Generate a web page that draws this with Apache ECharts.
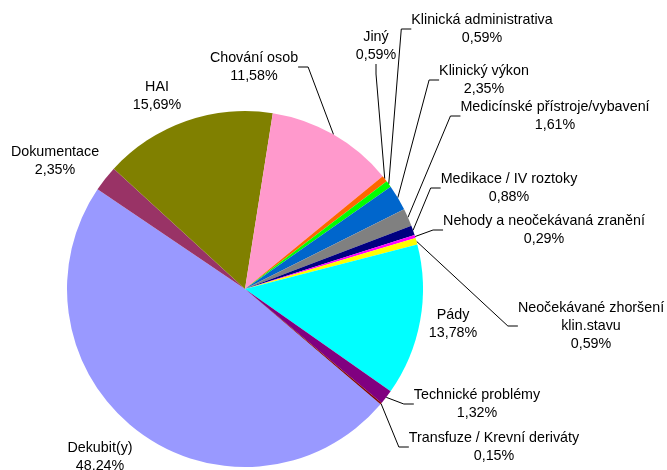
<!DOCTYPE html>
<html>
<head>
<meta charset="utf-8">
<script src="https://cdn.jsdelivr.net/npm/echarts@6/dist/echarts.min.js"></script>
<style>
  html, body { margin: 0; padding: 0; background: #fff; }
  #chart { width: 667px; height: 470px; }
</style>
</head>
<body>
<div id="chart"></div>
<script>
// kategorie v poradi, jak jdou po smeru hodin od Dekubitu
var categories = ['Dekubit(y)', 'Dokumentace', 'HAI', 'Chování osob', 'Jiný',
  'Klinická administrativa', 'Klinický výkon', 'Medicínské přístroje/vybavení',
  'Medikace / IV roztoky', 'Nehody a neočekávaná zranění',
  'Neočekávané zhoršení\nklin.stavu', 'Pády', 'Technické problémy',
  'Transfuze / Krevní deriváty'];
var values = [48.24, 2.35, 15.69, 11.58, 0.59, 0.59, 2.35, 1.61, 0.88, 0.29, 0.59, 13.78, 1.32, 0.15];
var colors = ['#9999FF', '#993366', '#808000', '#FF99CC', '#FF6600', '#00FF00', '#0066CC',
  '#808080', '#000080', '#FF00FF', '#FFFF00', '#00FFFF', '#800080', '#800000'];
// popisky - stred bloku textu
var labelPos = [[100, 457], [55, 161], [157, 96], [254, 67], [376, 46], [482, 29], [484, 80],
  [555, 116], [509, 188], [544, 230], [591, 326], [453, 324], [477, 404], [494, 447]];
var noLine = ['Dekubit(y)', 'Dokumentace', 'HAI', 'Pády'];

var chart = echarts.init(document.getElementById('chart'));
var option = {
  animation: false,
  series: [{
    type: 'pie',
    center: [245, 289],
    radius: [0, 178],
    startAngle: -40.4,
    clockwise: true,
    avoidLabelOverlap: false,
    data: categories.map(function (c, i) {
      return {
        name: c,
        value: values[i],
        itemStyle: { color: colors[i] },
        labelLine: { show: noLine.indexOf(c) < 0 }
      };
    }),
    label: {
      show: true,
      color: '#000',
      fontFamily: 'Liberation Sans, Arial, sans-serif',
      fontSize: 14.3,
      lineHeight: 18,
      align: 'center',
      formatter: function (p) {
        return p.name + '\n' + p.value.toFixed(2).replace('.', ',') + '%';
      }
    },
    labelLine: {
      length: 10,
      length2: 10,
      lineStyle: { color: '#000', width: 1 }
    },
    labelLayout: function (p) {
      var pos = labelPos[p.dataIndex];
      return { x: pos[0], y: pos[1], align: 'center', verticalAlign: 'middle' };
    },
    emphasis: { disabled: true }
  }]
};
chart.setOption(option);
</script>
</body>
</html>
